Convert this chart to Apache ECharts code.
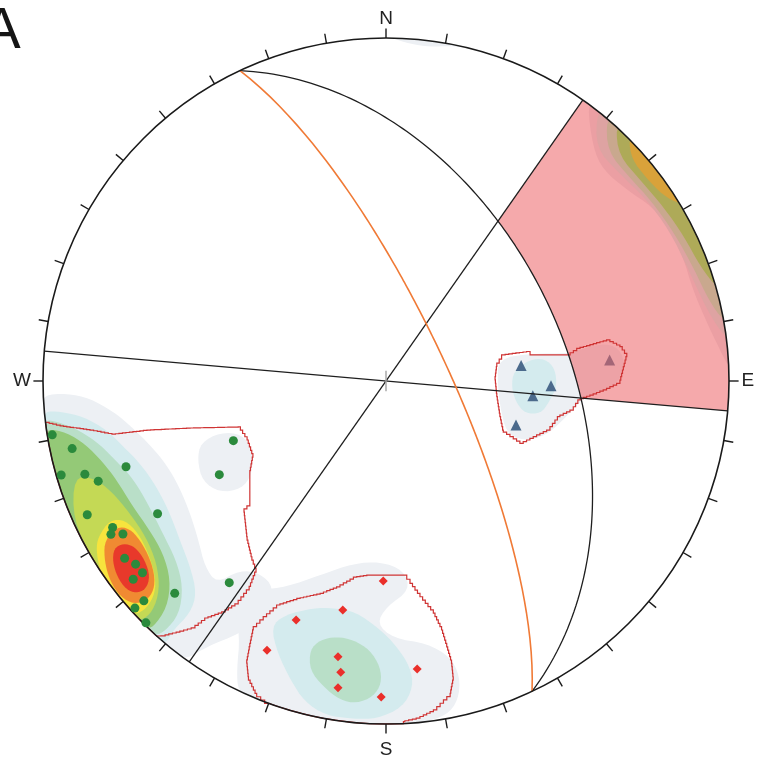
<!DOCTYPE html>
<html>
<head>
<meta charset="utf-8">
<title>Stereonet A</title>
<script src="https://cdn.jsdelivr.net/npm/echarts@6/dist/echarts.min.js"></script>
<style>
  html, body { margin: 0; padding: 0; background: #fff; }
  #chart { width: 763px; height: 765px; }
</style>
</head>
<body>
<div id="chart"></div>
<script>
  // lower hemisphere equal-area net: x = east, y = north, primitive radius = 1
  const greenPoles = [[-0.973,-0.157],[-0.915,-0.197],[-0.758,-0.250],[-0.947,-0.274],[-0.878,-0.272],
    [-0.839,-0.292],[-0.871,-0.390],[-0.666,-0.387],[-0.797,-0.427],[-0.802,-0.447],[-0.767,-0.446],
    [-0.762,-0.517],[-0.730,-0.534],[-0.710,-0.559],[-0.737,-0.578],[-0.616,-0.619],[-0.706,-0.641],
    [-0.732,-0.662],[-0.700,-0.705],[-0.445,-0.174],[-0.486,-0.273],[-0.457,-0.588]]
  const redPoles = [[-0.008,-0.583],[-0.126,-0.668],[-0.262,-0.697],[-0.347,-0.785],[-0.140,-0.804],
    [-0.132,-0.849],[-0.140,-0.894],[-0.014,-0.921],[0.091,-0.840]]
  const bluePoles = [[0.394,0.045],[0.481,-0.014],[0.428,-0.043],[0.379,-0.128],[0.652,0.061]]

  // planes as [dip direction, dip] in degrees
  const planeBlack = [64.8, 46.6]
  const planeOrange = [64.8, 75.5]
  const planeEW = [5, 90]
  const planeNE = [125, 90]

  const cardinalLabels = ['N', 'E', 'S', 'W']
  const cardinalAz = [0, 90, 180, 270]
  const TICK_STEP = 10

  // density contours (net coordinates), grouped by level
  const westL1 = [[-1.004,-0.041],[-0.931,-0.036],[-0.863,-0.051],[-0.795,-0.089],[-0.737,-0.138],[-0.688,-0.187],
    [-0.639,-0.245],[-0.601,-0.313],[-0.571,-0.386],[-0.547,-0.464],[-0.528,-0.541],[-0.494,-0.590],[-0.426,-0.551],
    [-0.367,-0.561],[-0.328,-0.600],[-0.338,-0.677],[-0.426,-0.736],[-0.523,-0.775],[-0.591,-0.823]]
  const westBlobL1 = [[-0.540,-0.180],[-0.484,-0.150],[-0.420,-0.155],[-0.390,-0.200],[-0.390,-0.272],
    [-0.422,-0.315],[-0.484,-0.325],[-0.535,-0.292],[-0.550,-0.230]]
  const westL2 = [[-1.004,-0.089],[-0.950,-0.089],[-0.882,-0.104],[-0.814,-0.143],[-0.766,-0.191],[-0.717,-0.240],
    [-0.669,-0.308],[-0.630,-0.386],[-0.601,-0.464],[-0.571,-0.541],[-0.552,-0.619],[-0.571,-0.677],[-0.620,-0.726],
    [-0.649,-0.775]]
  const westL3 = [[-1.004,-0.115],[-0.960,-0.118],[-0.892,-0.145],[-0.834,-0.185],[-0.785,-0.235],[-0.737,-0.285],
    [-0.692,-0.362],[-0.652,-0.442],[-0.612,-0.522],[-0.592,-0.600],[-0.603,-0.680],[-0.645,-0.730],[-0.688,-0.760]]
  const westL4 = [[-1.000,-0.140],[-0.931,-0.150],[-0.876,-0.185],[-0.826,-0.236],[-0.786,-0.288],[-0.738,-0.366],
    [-0.690,-0.434],[-0.650,-0.502],[-0.628,-0.580],[-0.638,-0.660],[-0.680,-0.720],[-0.727,-0.745]]
  const westL5 = [[-0.910,-0.280],[-0.853,-0.282],[-0.800,-0.322],[-0.748,-0.384],[-0.700,-0.454],[-0.668,-0.532],
    [-0.660,-0.609],[-0.680,-0.672],[-0.727,-0.712],[-0.814,-0.619],[-0.873,-0.522],[-0.912,-0.405]]
  const westL6 = [[-0.839,-0.454],[-0.805,-0.405],[-0.761,-0.405],[-0.722,-0.444],[-0.693,-0.502],[-0.673,-0.566],
    [-0.673,-0.619],[-0.698,-0.663],[-0.732,-0.682],[-0.771,-0.668],[-0.810,-0.619],[-0.834,-0.551],[-0.845,-0.493]]
  const westL7 = [[-0.819,-0.464],[-0.785,-0.425],[-0.748,-0.430],[-0.717,-0.464],[-0.688,-0.517],[-0.673,-0.575],
    [-0.680,-0.619],[-0.707,-0.646],[-0.746,-0.648],[-0.783,-0.619],[-0.810,-0.570],[-0.822,-0.512]]
  const westL8 = [[-0.793,-0.488],[-0.766,-0.473],[-0.732,-0.483],[-0.703,-0.522],[-0.688,-0.570],[-0.700,-0.607],
    [-0.729,-0.619],[-0.758,-0.607],[-0.783,-0.572],[-0.797,-0.527]]
  const southL1 = [[-0.445,-0.930],[-0.435,-0.843],[-0.426,-0.745],[-0.445,-0.638],[-0.484,-0.580],[-0.426,-0.561],
    [-0.367,-0.609],[-0.290,-0.600],[-0.192,-0.566],[-0.095,-0.532],[-0.017,-0.527],[0.051,-0.551],[0.070,-0.609],
    [0.002,-0.658],[-0.027,-0.707],[0.021,-0.750],[0.119,-0.765],[0.187,-0.804],[0.216,-0.862],[0.211,-0.930],
    [0.177,-0.974],[0.119,-1.003]]
  const southL2 = [[-0.335,-0.716],[-0.295,-0.682],[-0.212,-0.662],[-0.154,-0.662],[-0.090,-0.672],[-0.020,-0.722],
    [0.030,-0.772],[0.070,-0.833],[0.080,-0.891],[0.048,-0.952],[-0.027,-0.985],[-0.095,-0.985],[-0.176,-0.975],
    [-0.238,-0.934],[-0.278,-0.872],[-0.316,-0.794]]
  const southL3 = [[-0.222,-0.784],[-0.192,-0.755],[-0.144,-0.745],[-0.095,-0.755],[-0.047,-0.784],[-0.017,-0.833],
    [-0.013,-0.881],[-0.037,-0.920],[-0.086,-0.940],[-0.134,-0.930],[-0.183,-0.891],[-0.222,-0.843]]
  const eastL1 = [[0.328,0.065],[0.420,0.080],[0.536,0.080],[0.566,0.092],[0.643,0.112],[0.690,0.085],[0.695,0.022],
    [0.655,-0.022],[0.595,-0.040],[0.560,-0.065],[0.520,-0.110],[0.465,-0.160],[0.400,-0.175],[0.350,-0.150],
    [0.333,-0.075],[0.325,-0.005]]
  const eastL2 = [[0.372,0.028],[0.418,0.062],[0.462,0.066],[0.493,0.036],[0.498,-0.017],[0.476,-0.060],
    [0.452,-0.095],[0.405,-0.095],[0.378,-0.060],[0.366,-0.017]]
  const northL1 = [[0.017,1.000],[0.070,0.983],[0.128,0.974],[0.187,0.977],[0.245,0.994]]

  // contours along the NE primitive, seen through the shaded sector
  const rimL1 = [[0.589,0.813],[0.603,0.682],[0.633,0.615],[0.703,0.557],[0.778,0.507],[0.828,0.440],[0.866,0.362],
    [0.895,0.265],[0.936,0.169],[0.974,0.090],[1.017,0.041]]
  const rimL2 = [[0.622,0.796],[0.612,0.680],[0.676,0.609],[0.758,0.531],[0.826,0.439],[0.884,0.321],[0.939,0.200],
    [1.003,0.123]]
  const rimL3 = [[0.649,0.774],[0.646,0.669],[0.709,0.595],[0.775,0.523],[0.842,0.429],[0.898,0.327],[0.941,0.235],
    [0.995,0.176]]
  const rimL4 = [[0.676,0.750],[0.679,0.657],[0.745,0.582],[0.810,0.506],[0.868,0.423],[0.917,0.333],[0.971,0.279]]
  const rimL5 = [[0.714,0.714],[0.717,0.646],[0.758,0.593],[0.806,0.543],[0.866,0.520]]

  // cluster outlines
  const outlineWest = [[-1.003,-0.122],[-0.950,-0.131],[-0.863,-0.143],[-0.799,-0.155],[-0.697,-0.143],[-0.571,-0.137],
    [-0.431,-0.134],[-0.405,-0.172],[-0.388,-0.222],[-0.397,-0.271],[-0.397,-0.364],[-0.414,-0.382],[-0.405,-0.464],
    [-0.391,-0.522],[-0.379,-0.557],[-0.399,-0.609],[-0.431,-0.650],[-0.469,-0.673],[-0.519,-0.691],[-0.557,-0.720],
    [-0.601,-0.732],[-0.644,-0.743],[-0.673,-0.749]]
  const outlineSouth = [[-0.343,-0.942],[-0.377,-0.911],[-0.401,-0.862],[-0.406,-0.813],[-0.397,-0.765],[-0.387,-0.716],
    [-0.358,-0.687],[-0.319,-0.653],[-0.260,-0.634],[-0.192,-0.619],[-0.144,-0.600],[-0.095,-0.572],[-0.056,-0.566],
    [0.051,-0.566],[0.070,-0.590],[0.099,-0.629],[0.138,-0.677],[0.162,-0.726],[0.177,-0.775],[0.191,-0.823],
    [0.196,-0.872],[0.187,-0.920],[0.148,-0.959],[0.099,-0.983],[0.055,-0.993],[0.051,-1.003]]
  const outlineEast = [[0.323,0.052],[0.337,0.076],[0.410,0.086],[0.420,0.076],[0.527,0.076],[0.556,0.095],[0.643,0.120],
    [0.682,0.100],[0.702,0.071],[0.692,0.032],[0.682,-0.007],[0.643,-0.026],[0.604,-0.041],[0.566,-0.055],
    [0.546,-0.085],[0.507,-0.104],[0.478,-0.143],[0.439,-0.162],[0.400,-0.182],[0.371,-0.162],[0.342,-0.143],
    [0.332,-0.094],[0.323,-0.036],[0.318,0.013]]

  const levelColors = ['#edf0f4', '#d4ebee', '#b9dfc8', '#94c977', '#c4d955', '#f7e43d', '#f08a32', '#e8392b']
  const rimColors = ['#eb9fa3', '#dea3a2', '#c9a88e', '#aeaa58', '#d9a23a']

  const contours = [
    [1, westL1], [1, westBlobL1], [1, southL1], [1, eastL1], [1, northL1],
    [2, westL2], [2, southL2], [2, eastL2],
    [3, westL3], [3, southL3],
    [4, westL4], [5, westL5], [6, westL6], [7, westL7], [8, westL8]
  ]
  const rimContours = [rimL1, rimL2, rimL3, rimL4, rimL5]
  const outlines = [outlineWest, outlineSouth, outlineEast]

  const D2R = Math.PI / 180
  function net(az, r) {
    return [r * Math.sin(az * D2R), r * Math.cos(az * D2R)]
  }
  // great circle of a plane, a = angle from dip direction
  function greatCircle(plane, from, to) {
    const dd = plane[0], dip = plane[1]
    if (dip >= 89.99) return [net(dd + from, 1), net(dd + to, 1)]
    const pts = []
    const n = Math.ceil(Math.abs(to - from))
    for (let i = 0; i <= n; i++) {
      const a = from + (to - from) * i / n
      const p = Math.atan(Math.tan(dip * D2R) * Math.cos(a * D2R))
      pts.push(net(dd + a, Math.SQRT2 * Math.sin((Math.PI / 2 - p) / 2)))
    }
    return pts
  }
  // vertices outside the primitive are put on it, and the outline follows the primitive between them
  function ring(verts) {
    const out = []
    const n = verts.length
    const onRim = v => Math.hypot(v[0], v[1]) >= 0.999
    const clamp = v => {
      const r = Math.hypot(v[0], v[1])
      return r >= 0.999 ? [v[0] / r, v[1] / r] : v
    }
    for (let i = 0; i < n; i++) {
      const a = verts[i], b = verts[(i + 1) % n]
      out.push({ p: clamp(a), rim: onRim(a) })
      if (onRim(a) && onRim(b)) {
        const t0 = Math.atan2(a[1], a[0])
        let d = Math.atan2(b[1], b[0]) - t0
        while (d > Math.PI) d -= 2 * Math.PI
        while (d < -Math.PI) d += 2 * Math.PI
        const steps = Math.ceil(Math.abs(d) / (2 * D2R))
        for (let k = 1; k < steps; k++) {
          const t = t0 + d * k / steps
          out.push({ p: [Math.cos(t), Math.sin(t)], rim: true })
        }
      }
    }
    return out
  }
  function chaikin(pts, iter) {
    let p = pts
    for (let k = 0; k < iter; k++) {
      const q = []
      for (let i = 0; i < p.length; i++) {
        const a = p[i], b = p[(i + 1) % p.length]
        q.push([0.75 * a[0] + 0.25 * b[0], 0.75 * a[1] + 0.25 * b[1]])
        q.push([0.25 * a[0] + 0.75 * b[0], 0.25 * a[1] + 0.75 * b[1]])
      }
      p = q
    }
    return p
  }
  // stepped outline like the gridded contour boundary
  function stairs(pts, rim, step) {
    const out = [pts[0]]
    const n = pts.length
    for (let i = 0; i < n; i++) {
      const a = pts[i], b = pts[(i + 1) % n]
      if (rim[i] && rim[(i + 1) % n]) { out.push(b); continue }
      const k = Math.max(1, Math.round(Math.max(Math.abs(b[0] - a[0]), Math.abs(b[1] - a[1])) / step))
      let prev = a
      for (let j = 1; j <= k; j++) {
        const q = [a[0] + (b[0] - a[0]) * j / k, a[1] + (b[1] - a[1]) * j / k]
        out.push([q[0], prev[1]], q)
        prev = q
      }
    }
    return out
  }

  function fillSeries(shapes, colors, z, smooth) {
    return {
      type: 'custom',
      z: z,
      silent: true,
      animation: false,
      data: shapes.map(s => s[0]),
      renderItem: function (params, api) {
        const pts = chaikin(ring(shapes[params.dataIndex]).map(o => o.p), smooth).map(p => api.coord(p))
        return { type: 'polygon', shape: { points: pts }, style: { fill: colors[params.dataIndex] } }
      }
    }
  }
  function lineSeries(points, color, width, z) {
    return {
      type: 'line',
      data: points,
      showSymbol: false,
      silent: true,
      animation: false,
      clip: false,
      z: z,
      lineStyle: { color: color, width: width }
    }
  }

  const chart = echarts.init(document.getElementById('chart'))
  const option = {
    backgroundColor: '#fff',
    animation: false,
    grid: { left: 43, top: 38, width: 686, height: 686 },
    xAxis: { type: 'value', min: -1, max: 1, show: false },
    yAxis: { type: 'value', min: -1, max: 1, show: false },
    graphic: [{
      type: 'text', left: -18, top: 3,
      style: { text: 'A', font: '58px "Liberation Sans"', fill: '#151515' }
    }],
    series: [
      fillSeries(contours.map(c => c[1]), contours.map(c => levelColors[c[0] - 1]), 1, 2),
      {
        type: 'scatter', data: bluePoles, symbol: 'triangle', symbolSize: 11, z: 2,
        silent: true, animation: false, itemStyle: { color: '#4b6a8c', opacity: 1 }
      },
      {
        // shaded sector between the two vertical planes and the black great circle
        type: 'custom', z: 3, silent: true, animation: false,
        data: [[0.8, 0.5]],
        renderItem: function (params, api) {
          const from = planeNE[0] - 90
          const to = planeEW[0] + 90
          const pts = greatCircle(planeBlack, from - planeBlack[0], to - planeBlack[0])
          for (let az = to; az >= from; az -= 1) pts.push(net(az, 1))
          return {
            type: 'polygon',
            shape: { points: pts.map(p => api.coord(p)) },
            style: { fill: 'rgba(237,99,102,0.55)' }
          }
        }
      },
      fillSeries(rimContours, rimColors, 4, 2),
      {
        type: 'custom', z: 5, silent: true, animation: false,
        data: outlines.map(o => o[0]),
        renderItem: function (params, api) {
          const r = ring(outlines[params.dataIndex])
          const pts = stairs(r.map(o => api.coord(o.p)), r.map(o => o.rim), 3.5)
          return {
            type: 'polygon',
            shape: { points: pts },
            style: { fill: 'none', stroke: '#cf3434', lineWidth: 1.2 }
          }
        }
      },
      lineSeries(greatCircle(planeBlack, -90, 90), '#1e1e1e', 1.3, 6),
      lineSeries(greatCircle(planeEW, -90, 90), '#1e1e1e', 1.3, 6),
      lineSeries(greatCircle(planeNE, -90, 90), '#1e1e1e', 1.3, 6),
      lineSeries(greatCircle(planeOrange, -90, 90), '#f07a36', 1.6, 6),
      {
        // primitive circle, ticks, cardinal labels and centre mark
        type: 'custom', z: 7, silent: true, animation: false,
        data: [[0, 0]],
        renderItem: function (params, api) {
          const c = api.coord([0, 0])
          const rad = api.coord([1, 0])[0] - c[0]
          const labelRadius = [1.055, 1.055, 1.076, 1.061]
          const children = [{
            type: 'circle', shape: { cx: c[0], cy: c[1], r: rad },
            style: { fill: 'none', stroke: '#1a1a1a', lineWidth: 1.6 }
          }]
          for (let az = 0; az < 360; az += TICK_STEP) {
            const p0 = api.coord(net(az, 1)), p1 = api.coord(net(az, 1.028))
            children.push({
              type: 'line', shape: { x1: p0[0], y1: p0[1], x2: p1[0], y2: p1[1] },
              style: { stroke: '#1a1a1a', lineWidth: 1.4 }
            })
          }
          cardinalLabels.forEach((t, i) => {
            const p = api.coord(net(cardinalAz[i], labelRadius[i]))
            children.push({
              type: 'text', x: p[0], y: p[1],
              style: {
                text: t, font: '19px "Liberation Sans"', fill: '#222',
                align: 'center', verticalAlign: 'middle', textAlign: 'center', textVerticalAlign: 'middle'
              }
            })
          })
          const u = api.coord([0, 0.03])[1] - c[1]
          children.push({
            type: 'line', shape: { x1: c[0], y1: c[1] - u, x2: c[0], y2: c[1] + u },
            style: { stroke: '#a8a8a8', lineWidth: 1.5 }
          })
          return { type: 'group', children: children }
        }
      },
      {
        type: 'scatter', data: greenPoles, symbol: 'circle', symbolSize: 9, z: 8,
        silent: true, animation: false, itemStyle: { color: '#2b8a3c', opacity: 1 }
      },
      {
        type: 'scatter', data: redPoles, symbol: 'diamond', symbolSize: 9, z: 8,
        silent: true, animation: false, itemStyle: { color: '#ea2f2a', opacity: 1 }
      }
    ]
  }
  chart.setOption(option)
</script>
</body>
</html>
